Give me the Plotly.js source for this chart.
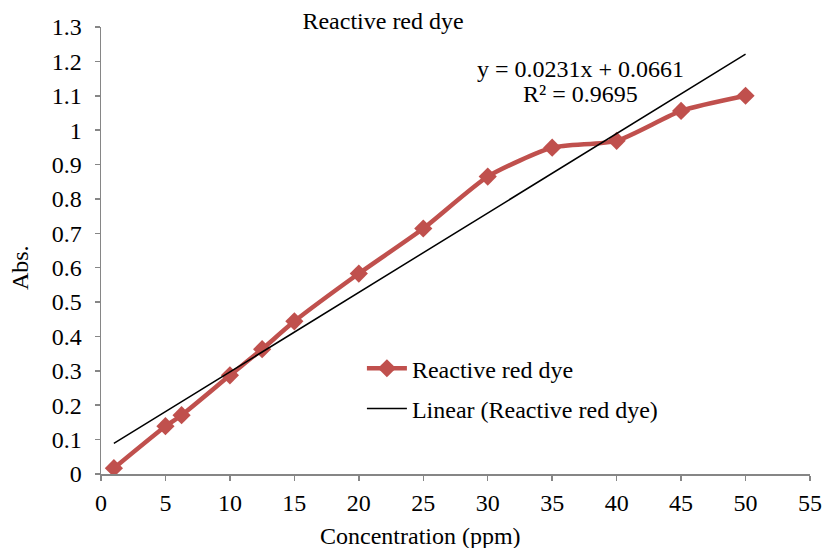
<!DOCTYPE html>
<html>
<head>
<meta charset="utf-8">
<script src="https://cdn.plot.ly/plotly-3.0.1.min.js"></script>
<style>html,body{margin:0;padding:0;background:#fff;}#chart{width:822px;height:548px;}</style>
</head>
<body>
<div id="chart"></div>
<script>
// Data
var concentration = [1, 5, 6.25, 10, 12.5, 15, 20, 25, 30, 35, 40, 45, 50];
var absorbance = [0.017, 0.139, 0.171, 0.287, 0.363, 0.444, 0.583, 0.714, 0.865, 0.949, 0.969, 1.056, 1.10];
var trendSlope = 0.0231;
var trendIntercept = 0.0661;
var trendX = [1, 50];
var seriesName = "Reactive red dye";
var trendName = "Linear (Reactive red dye)";
var xTitle = "Concentration (ppm)";
var yTitle = "Abs.";
var xTicks = [0, 5, 10, 15, 20, 25, 30, 35, 40, 45, 50, 55];
var yTicks = [0, 0.1, 0.2, 0.3, 0.4, 0.5, 0.6, 0.7, 0.8, 0.9, 1, 1.1, 1.2, 1.3];
var yTickText = ["0", "0.1", "0.2", "0.3", "0.4", "0.5", "0.6", "0.7", "0.8", "0.9", "1", "1.1", "1.2", "1.3"];
var equationText = "y = 0.0231x + 0.0661";
var r2Text = "R² = 0.9695";

var trendY = trendX.map(function (x) { return trendSlope * x + trendIntercept; });
var font = "Liberation Serif, Times New Roman, serif";
var fs = 24;

var traces = [
  {
    x: concentration, y: absorbance, name: seriesName, type: "scatter", mode: "lines+markers",
    line: {color: "#C0504D", width: 4.5, shape: "spline", smoothing: 0.6},
    marker: {symbol: "diamond", size: 14, color: "#C0504D"},
    legendgroup: "a"
  },
  {
    x: trendX, y: trendY, name: trendName, type: "scatter", mode: "lines",
    line: {color: "#000000", width: 1.5},
    legendgroup: "b"
  }
];

var axisCommon = {
  showgrid: false, zeroline: false, showline: true, linecolor: "#868686", linewidth: 1.5,
  ticks: "outside", ticklen: 5, tickcolor: "#868686", tickwidth: 1.5,
  tickfont: {family: font, size: fs, color: "#000"}, automargin: false
};

var layout = {
  width: 822, height: 548,
  margin: {l: 101, r: 12, t: 27, b: 74},
  paper_bgcolor: "#fff", plot_bgcolor: "#fff",
  font: {family: font, color: "#000"},
  title: {text: seriesName, font: {family: font, size: fs, color: "#000"}, x: 0.466, xanchor: "center", y: 0.962, yanchor: "middle"},
  xaxis: Object.assign({}, axisCommon, {
    range: [0, 55], tickvals: xTicks, ticktext: xTicks.map(String), ticklabelstandoff: 2
  }),
  yaxis: Object.assign({}, axisCommon, {
    range: [0, 1.3], tickvals: yTicks, ticktext: yTickText, ticklabelstandoff: 8
  }),
  showlegend: true,
  legend: {
    x: 0.368, y: 0.286, xanchor: "left", yanchor: "top",
    bgcolor: "rgba(0,0,0,0)", font: {family: font, size: fs, color: "#000"},
    traceorder: "grouped", tracegroupgap: 6, itemwidth: 40
  },
  annotations: [
    {xref: "paper", yref: "paper", x: 0.676, y: 0.906, text: equationText, showarrow: false,
     font: {family: font, size: fs, color: "#000"}, xanchor: "center", yanchor: "middle"},
    {xref: "paper", yref: "paper", x: 0.676, y: 0.85, text: r2Text, showarrow: false,
     font: {family: font, size: fs, color: "#000"}, xanchor: "center", yanchor: "middle"},
    {xref: "paper", yref: "paper", x: 0.45, y: -0.139, text: xTitle, showarrow: false,
     font: {family: font, size: fs, color: "#000"}, xanchor: "center", yanchor: "middle"},
    {xref: "paper", yref: "paper", x: -0.114, y: 0.461, text: yTitle, showarrow: false, textangle: -90,
     font: {family: font, size: fs, color: "#000"}, xanchor: "center", yanchor: "middle"}
  ]
};

Plotly.newPlot("chart", traces, layout, {displayModeBar: false, staticPlot: true});
</script>
</body>
</html>
